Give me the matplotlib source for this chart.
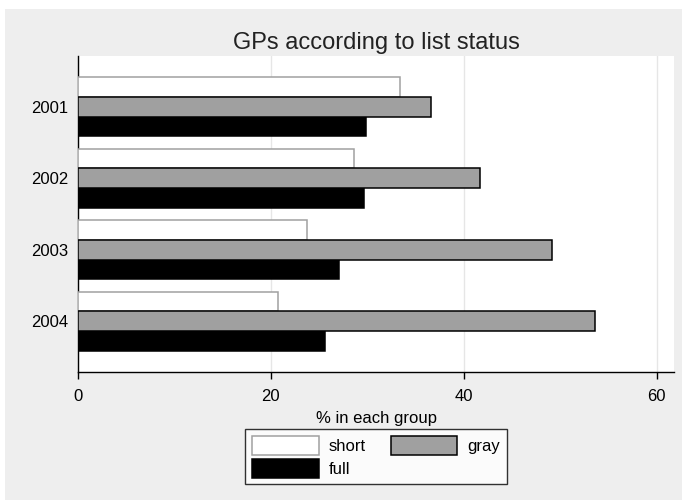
import matplotlib
matplotlib.use("Agg")
import matplotlib.pyplot as plt
import numpy as np

plt.rcParams["font.family"] = ["Liberation Sans", "DejaVu Sans"]

years = ["2001", "2002", "2003", "2004"]
short = [33.4, 28.6, 23.7, 20.7]
gray = [36.6, 41.7, 49.2, 53.6]
full = [29.9, 29.7, 27.1, 25.6]

W, H = 682, 500
fig = plt.figure(figsize=(W / 100, H / 100), dpi=100)
fig.patch.set_facecolor("white")

# light gray graph region with a thin white margin at top and left
fig.add_artist(plt.Rectangle((5 / W, 0), 1 - 5 / W, 1 - 9 / H,
                             transform=fig.transFigure,
                             facecolor="#eeeeee", edgecolor="none", zorder=0))

ax = fig.add_axes([78 / W, 1 - 372 / H, (674 - 78) / W, (372 - 56) / H])
ax.set_facecolor("white")

y = np.arange(len(years))
h = 0.275
ax.barh(y - h, short, height=h, color="white", edgecolor="#a0a0a0",
        linewidth=1.1, label="short", zorder=3)
ax.barh(y + h, full, height=h, color="black", edgecolor="black",
        linewidth=1.1, label="full", zorder=3)
ax.barh(y, gray, height=h, color="#a0a0a0", edgecolor="black",
        linewidth=1.1, label="gray", zorder=3)

ax.set_xlim(0, 61.8)
ax.set_ylim(3.71, -0.71)
ax.set_xticks([0, 20, 40, 60])
ax.set_yticks(y)
ax.set_yticklabels(years)
ax.grid(axis="x", color="#e6e6e6", linewidth=1.0, zorder=0)
ax.set_axisbelow(True)

for s in ("top", "right"):
    ax.spines[s].set_visible(False)
for s in ("left", "bottom"):
    ax.spines[s].set_color("black")
    ax.spines[s].set_linewidth(1.0)

ax.tick_params(axis="y", length=0, pad=7, labelsize=12)
ax.tick_params(axis="x", length=5, width=1.0, pad=7, labelsize=12)

ax.set_xlabel("% in each group", fontsize=12, labelpad=5)
ax.set_title("GPs according to list status", fontsize=17, pad=5, color="#222222")

handles, labels = ax.get_legend_handles_labels()
order = [labels.index(n) for n in ("short", "full", "gray")]
leg = ax.legend([handles[i] for i in order], [labels[i] for i in order],
                ncol=2, loc="upper center", bbox_to_anchor=(0.5, -0.155),
                frameon=True, fancybox=False, edgecolor="black",
                fontsize=12, handlelength=4.0, handleheight=1.35,
                handletextpad=0.6, columnspacing=1.5, labelspacing=0.25,
                borderpad=0.4)
leg.get_frame().set_linewidth(1.0)

fig.savefig("out.png", dpi=100, facecolor=fig.get_facecolor())
